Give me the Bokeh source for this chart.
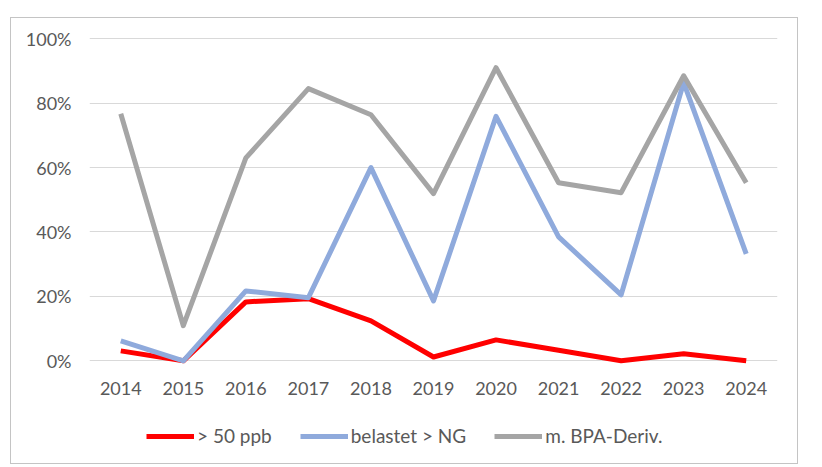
from bokeh.plotting import figure
from bokeh.models import Range1d, NumeralTickFormatter, Legend, LegendItem, FixedTicker, Column
from bokeh.embed import file_html
from bokeh.resources import INLINE

years = ["2014", "2015", "2016", "2017", "2018", "2019", "2020", "2021", "2022", "2023", "2024"]
over_50ppb = [0.031, 0.0, 0.183, 0.193, 0.124, 0.012, 0.065, 0.033, 0.0, 0.022, 0.0]
belastet_ng = [0.062, 0.0, 0.217, 0.196, 0.600, 0.186, 0.759, 0.385, 0.205, 0.864, 0.332]
bpa_deriv = [0.767, 0.109, 0.630, 0.845, 0.764, 0.519, 0.910, 0.553, 0.522, 0.885, 0.553]
series_names = ["> 50 ppb", "belastet > NG", "m. BPA-Deriv."]
y_ticks = [0.0, 0.2, 0.4, 0.6, 0.8, 1.0]

FONT = "Lato"
TXT = "#595959"
colors = ["#FF0000", "#8FAADC", "#A5A5A5"]
data = [over_50ppb, belastet_ng, bpa_deriv]

p = figure(x_range=years, y_range=Range1d(-0.03, 1.01), width=786, height=388,
           output_backend="svg", toolbar_location=None,
           min_border_left=78, min_border_right=20, min_border_top=17, min_border_bottom=36)
p.outline_line_color = None
p.xgrid.grid_line_color = None
p.ygrid.grid_line_color = "#D9D9D9"
p.ygrid.grid_line_width = 1.2
p.yaxis.ticker = FixedTicker(ticks=y_ticks)
p.yaxis.formatter = NumeralTickFormatter(format="0%")

for ax in (p.xaxis, p.yaxis):
    ax.axis_line_color = None
    ax.major_tick_line_color = None
    ax.minor_tick_line_color = None
    ax.major_tick_out = 0
    ax.major_tick_in = 0
    ax.major_label_text_font = FONT
    ax.major_label_text_font_size = "18px"
    ax.major_label_text_color = TXT
p.yaxis.major_label_standoff = 18
p.xaxis.major_label_standoff = 11

for vals, c in zip(data, colors):
    p.line(years, vals, line_color=c, line_width=5, line_join="round")

# legend strip below the chart
lg = figure(width=786, height=57, x_range=Range1d(0, 1), y_range=Range1d(0, 1),
            output_backend="svg", toolbar_location=None,
            min_border_left=0, min_border_right=0, min_border_top=0, min_border_bottom=0)
lg.axis.visible = False
lg.grid.visible = False
lg.outline_line_color = None
items = []
for name, c in zip(series_names, colors):
    r = lg.line(x=[-5, -4], y=[-5, -4], line_color=c, line_width=5)
    items.append(LegendItem(label=name, renderers=[r]))
legend = Legend(items=items, orientation="horizontal", location=(57, 16),
                glyph_width=48, label_standoff=3, spacing=28, padding=5, margin=0,
                label_text_font=FONT, label_text_font_size="19px", label_text_color=TXT,
                border_line_color=None, background_fill_alpha=0)
lg.add_layout(legend)

layout = Column(children=[p, lg], spacing=0,
                styles={"border": "1px solid #C4C4C4", "margin-left": "10px", "margin-top": "17px"})

open("out.html", "w").write(file_html(layout, INLINE))
